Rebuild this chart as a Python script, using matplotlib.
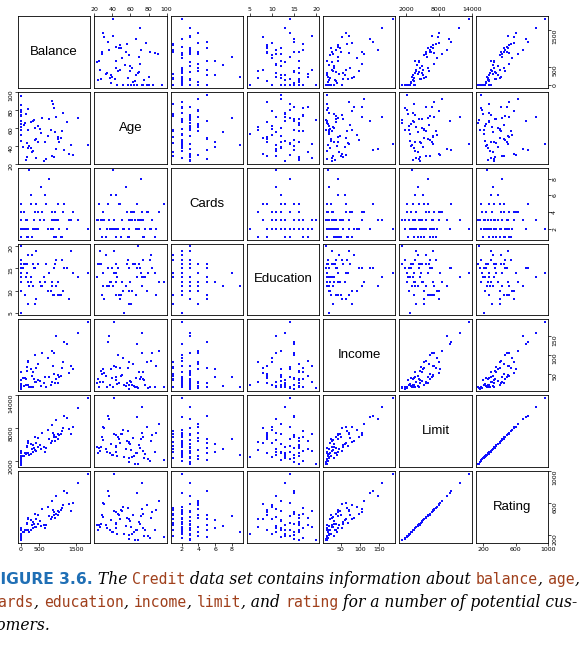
import numpy as np
import matplotlib.pyplot as plt

names = ["Balance", "Age", "Cards", "Education", "Income", "Limit", "Rating"]

# rows: Income, Limit, Rating, Cards, Age, Education, Balance (estimated)
income = [14.9, 106.0, 104.6, 148.9, 55.9, 80.2, 21.0, 71.4, 15.1, 71.1, 63.1, 15.0, 80.6, 43.7, 19.1,
          20.1, 53.6, 36.5, 49.6, 42.1, 17.7, 37.3, 20.1, 64.0, 10.7, 14.1, 42.5, 32.8, 186.6, 26.8,
          23.0, 31.4, 128.0, 12.5, 45.2, 28.6, 92.1, 16.3, 61.7, 35.9, 158.9, 24.4, 13.8, 75.3, 39.0,
          52.8, 18.9, 110.4, 27.2, 11.6, 68.5, 21.5, 135.2, 33.3, 47.6, 15.9, 84.7, 29.4, 57.1, 19.7,
          41.8, 98.6, 25.9, 14.3, 66.2, 37.7]
limit = [3606, 6645, 7075, 9504, 4897, 8047, 3388, 7114, 3300, 6819, 8117, 1311, 5308, 6922, 3291,
         2525, 3714, 4378, 6384, 6626, 2860, 6378, 2631, 5179, 1757, 4323, 3625, 4534, 13414, 5611,
         2800, 4950, 9900, 2250, 4200, 5700, 7600, 1900, 5100, 3350, 11700, 6000, 3500, 6100, 2950,
         7900, 4100, 8600, 3800, 1300, 4700, 5300, 10200, 2450, 6900, 3100, 5600, 3900, 4500, 2700,
         5900, 6300, 4450, 2100, 7400, 3450]
rating = [283, 483, 514, 681, 357, 569, 259, 512, 266, 491, 589, 138, 394, 511, 269,
          200, 286, 339, 448, 479, 235, 458, 213, 398, 156, 326, 289, 333, 949, 411,
          220, 370, 720, 185, 320, 420, 545, 170, 380, 260, 840, 445, 270, 450, 235,
          575, 310, 620, 295, 140, 355, 395, 735, 195, 500, 245, 410, 300, 340, 210,
          430, 465, 330, 175, 535, 265]
cards = [2, 3, 4, 3, 2, 4, 2, 2, 5, 3, 4, 3, 1, 1, 2, 3, 3, 3, 1, 2, 4, 1, 3, 5, 3, 5, 6, 2, 2, 4,
         2, 3, 2, 4, 1, 3, 2, 2, 6, 3, 3, 5, 1, 4, 2, 3, 7, 4, 2, 3, 1, 2, 5, 1, 3, 9, 2, 4, 3, 2,
         8, 2, 3, 5, 1, 2]
age = [34, 82, 71, 36, 68, 77, 37, 87, 66, 41, 30, 64, 57, 49, 75, 57, 73, 69, 28, 44, 63, 72, 61, 48,
       57, 25, 44, 44, 41, 55, 45, 59, 66, 78, 33, 29, 51, 80, 38, 24, 71, 47, 85, 62, 39, 31, 54, 90,
       26, 67, 43, 58, 35, 74, 50, 40, 81, 60, 27, 52, 70, 46, 23, 95, 56, 65]
education = [11, 15, 11, 11, 16, 10, 12, 9, 13, 19, 14, 16, 7, 9, 13, 15, 17, 15, 9, 9, 16, 17, 10, 8,
             15, 16, 12, 16, 14, 16, 13, 12, 15, 14, 18, 11, 10, 17, 12, 16, 13, 9, 14, 16, 15, 8, 11,
             12, 19, 20, 14, 10, 15, 13, 12, 11, 18, 7, 16, 5, 14, 15, 13, 12, 17, 9]
balance = [333, 903, 580, 964, 331, 1151, 203, 872, 279, 1350, 1407, 0, 204, 1081, 148,
           0, 0, 368, 891, 1048, 89, 968, 0, 411, 0, 671, 654, 467, 1809, 915,
           0, 520, 1260, 0, 310, 860, 750, 0, 290, 150, 1560, 1020, 0, 480, 60,
           1300, 540, 860, 410, 0, 160, 820, 1180, 0, 1020, 230, 210, 380, 180, 0,
           760, 390, 620, 0, 1110, 110]

data = [balance, age, cards, education, income, limit, rating]
ticks = [[0, 500, 1500], [20, 40, 60, 80, 100], [2, 4, 6, 8], [5, 10, 15, 20],
         [50, 100, 150], [2000, 8000, 14000], [200, 600, 1000]]

W, H = 579, 653
fig = plt.figure(figsize=(W / 100, H / 100), dpi=100)
left, right, top, bottom = 18, 548, 16, 543
gap = 4
n = 7
cw = (right - left - gap * (n - 1)) / n
ch = (bottom - top - gap * (n - 1)) / n

def lim(v):
    v = np.asarray(v, float)
    pad = (v.max() - v.min()) * 0.04
    return v.min() - pad, v.max() + pad

for i in range(n):
    for j in range(n):
        x0 = left + j * (cw + gap)
        y0 = top + i * (ch + gap)
        ax = fig.add_axes([x0 / W, 1 - (y0 + ch) / H, cw / W, ch / H])
        ax.set_xlim(lim(data[j]))
        ax.set_ylim(lim(data[i]))
        ax.tick_params(length=2, width=0.5, labelsize=4.5, pad=1)
        ax.set_xticks([])
        ax.set_yticks([])
        if i == j:
            ax.text(0.5, 0.5, names[i], transform=ax.transAxes, ha="center", va="center",
                    fontsize=9.5, family="Liberation Sans")
        else:
            ax.scatter(data[j], data[i], s=1.5, c="#1010ff", marker="s", linewidths=0)
        if i == 0 and j % 2 == 1:
            ax.set_xticks(ticks[j])
            ax.xaxis.tick_top()
        if i == n - 1 and j % 2 == 0:
            ax.set_xticks(ticks[j])
        if j == 0 and i % 2 == 1:
            ax.set_yticks(ticks[i])
            ax.tick_params(axis="y", labelrotation=90)
        if j == n - 1 and i % 2 == 0:
            ax.set_yticks(ticks[i])
            ax.yaxis.tick_right()
            ax.tick_params(axis="y", labelrotation=90)
        for s in ax.spines.values():
            s.set_linewidth(0.6)

renderer = fig.canvas.get_renderer()
blue = "#1f6fb5"
brown = "#a0401c"

# caption is cut at the left edge, as in the reference
def line(pieces, y):
    x = -10
    for txt, kind in pieces:
        kw = dict(fontsize=11.2, color="black", family="DejaVu Serif", style="italic")
        if kind == "b":
            kw.update(color=blue, weight="bold", style="normal", family="DejaVu Sans")
        elif kind == "m":
            kw.update(color=brown, family="DejaVu Sans Mono", style="normal", fontsize=10.6)
        t = fig.text(x / W, 1 - y / H, txt, va="baseline", **kw)
        bb = t.get_window_extent(renderer)
        x += bb.width

line([("FIGURE 3.6.", "b"), (" The ", "i"), ("Credit", "m"), (" data set contains information about ", "i"),
      ("balance", "m"), (", ", "i"), ("age", "m"), (",", "i")], 584)
line([("cards", "m"), (", ", "i"), ("education", "m"), (", ", "i"), ("income", "m"), (", ", "i"),
      ("limit", "m"), (", and ", "i"), ("rating", "m"), (" for a number of potential cus-", "i")], 607)
line([("tomers.", "i")], 630)

fig.savefig("out.png", dpi=100)
